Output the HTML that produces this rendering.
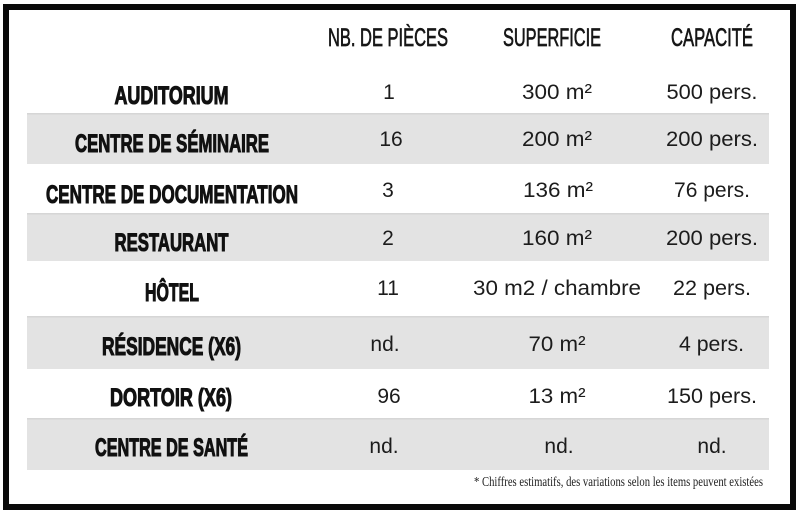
<!DOCTYPE html>
<html>
<head>
<meta charset="utf-8">
<style>
  html, body { margin: 0; padding: 0; background: #ffffff; }
  svg { display: block; }
  .lbl { font-family: "Liberation Sans", sans-serif; font-weight: bold; font-size: 25px; fill: #111; stroke: #111; stroke-width: 1.1px; }
  .hdr { font-family: "Liberation Sans", sans-serif; font-weight: normal; font-size: 25px; fill: #161616; stroke: #161616; stroke-width: 0.7px; }
  .dat { font-family: "Liberation Sans", sans-serif; font-size: 21px; fill: #1c1c1c; }
  .note { font-family: "Liberation Serif", serif; font-size: 13.5px; fill: #222; }
</style>
</head>
<body>
<svg width="800" height="514" viewBox="0 0 800 514" xmlns="http://www.w3.org/2000/svg">
  <rect x="0" y="0" width="800" height="514" fill="#ffffff"/>
  <!-- frame -->
  <rect x="6" y="7" width="787" height="500" fill="#ffffff" stroke="#0a0a0a" stroke-width="6"/>

  <!-- gray rows -->
  <rect x="27" y="113" width="742" height="51" fill="#e3e3e3"/>
  <rect x="27" y="113" width="742" height="1.5" fill="#d6d6d6"/>
  <rect x="27" y="213" width="742" height="48" fill="#e3e3e3"/>
  <rect x="27" y="213" width="742" height="1.5" fill="#d6d6d6"/>
  <rect x="27" y="316" width="742" height="53" fill="#e3e3e3"/>
  <rect x="27" y="316" width="742" height="1.5" fill="#d6d6d6"/>
  <rect x="27" y="418" width="742" height="52" fill="#e3e3e3"/>
  <rect x="27" y="418" width="742" height="1.5" fill="#d6d6d6"/>

  <!-- headers -->
  <text class="hdr" x="388" y="46" text-anchor="middle" textLength="120" lengthAdjust="spacingAndGlyphs">NB. DE PIÈCES</text>
  <text class="hdr" x="552" y="46" text-anchor="middle" textLength="98" lengthAdjust="spacingAndGlyphs">SUPERFICIE</text>
  <text class="hdr" x="712" y="46" text-anchor="middle" textLength="82" lengthAdjust="spacingAndGlyphs">CAPACITÉ</text>

  <!-- row labels -->
  <text class="lbl" x="171.5" y="104" text-anchor="middle" textLength="114" lengthAdjust="spacingAndGlyphs">AUDITORIUM</text>
  <text class="lbl" x="172" y="152" text-anchor="middle" textLength="194" lengthAdjust="spacingAndGlyphs">CENTRE DE SÉMINAIRE</text>
  <text class="lbl" x="172" y="203" text-anchor="middle" textLength="252" lengthAdjust="spacingAndGlyphs">CENTRE DE DOCUMENTATION</text>
  <text class="lbl" x="171.5" y="251" text-anchor="middle" textLength="114" lengthAdjust="spacingAndGlyphs">RESTAURANT</text>
  <text class="lbl" x="172" y="301" text-anchor="middle" textLength="54" lengthAdjust="spacingAndGlyphs">HÔTEL</text>
  <text class="lbl" x="171.5" y="355" text-anchor="middle" textLength="139" lengthAdjust="spacingAndGlyphs">RÉSIDENCE (X6)</text>
  <text class="lbl" x="171" y="406" text-anchor="middle" textLength="122" lengthAdjust="spacingAndGlyphs">DORTOIR (X6)</text>
  <text class="lbl" x="171.5" y="456" text-anchor="middle" textLength="153" lengthAdjust="spacingAndGlyphs">CENTRE DE SANTÉ</text>

  <!-- column 1 -->
  <text class="dat" x="389" y="99" text-anchor="middle">1</text>
  <text class="dat" x="391" y="146" text-anchor="middle">16</text>
  <text class="dat" x="388" y="197" text-anchor="middle">3</text>
  <text class="dat" x="388" y="245" text-anchor="middle">2</text>
  <text class="dat" x="388" y="295" text-anchor="middle">11</text>
  <text class="dat" x="385" y="351" text-anchor="middle">nd.</text>
  <text class="dat" x="389" y="403" text-anchor="middle">96</text>
  <text class="dat" x="384" y="453" text-anchor="middle">nd.</text>

  <!-- column 2 -->
  <text class="dat" x="557" y="99" text-anchor="middle" textLength="70" lengthAdjust="spacingAndGlyphs">300 m²</text>
  <text class="dat" x="557" y="146" text-anchor="middle" textLength="70" lengthAdjust="spacingAndGlyphs">200 m²</text>
  <text class="dat" x="558" y="197" text-anchor="middle" textLength="70" lengthAdjust="spacingAndGlyphs">136 m²</text>
  <text class="dat" x="557" y="245" text-anchor="middle" textLength="70" lengthAdjust="spacingAndGlyphs">160 m²</text>
  <text class="dat" x="557" y="295" text-anchor="middle" textLength="168" lengthAdjust="spacingAndGlyphs">30 m2 / chambre</text>
  <text class="dat" x="557" y="351" text-anchor="middle" textLength="57" lengthAdjust="spacingAndGlyphs">70 m²</text>
  <text class="dat" x="557" y="403" text-anchor="middle" textLength="57" lengthAdjust="spacingAndGlyphs">13 m²</text>
  <text class="dat" x="559" y="453" text-anchor="middle">nd.</text>

  <!-- column 3 -->
  <text class="dat" x="712" y="99" text-anchor="middle" textLength="91" lengthAdjust="spacingAndGlyphs">500 pers.</text>
  <text class="dat" x="712" y="146" text-anchor="middle" textLength="92" lengthAdjust="spacingAndGlyphs">200 pers.</text>
  <text class="dat" x="712" y="197" text-anchor="middle" textLength="76" lengthAdjust="spacingAndGlyphs">76 pers.</text>
  <text class="dat" x="712" y="245" text-anchor="middle" textLength="92" lengthAdjust="spacingAndGlyphs">200 pers.</text>
  <text class="dat" x="712" y="295" text-anchor="middle" textLength="78" lengthAdjust="spacingAndGlyphs">22 pers.</text>
  <text class="dat" x="711.5" y="351" text-anchor="middle" textLength="65" lengthAdjust="spacingAndGlyphs">4 pers.</text>
  <text class="dat" x="712" y="403" text-anchor="middle" textLength="90" lengthAdjust="spacingAndGlyphs">150 pers.</text>
  <text class="dat" x="712" y="453" text-anchor="middle">nd.</text>

  <!-- footnote -->
  <text class="note" x="474" y="486" textLength="289" lengthAdjust="spacingAndGlyphs">* Chiffres estimatifs, des variations selon les items peuvent existées</text>
</svg>
</body>
</html>
